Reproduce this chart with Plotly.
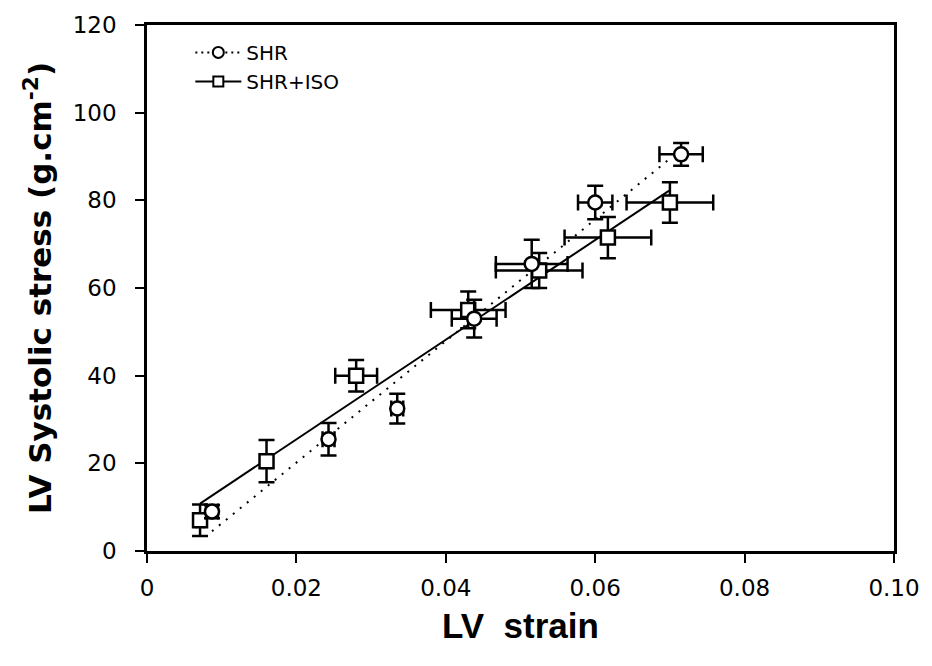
import plotly.graph_objects as go

# SHR (circles, dotted fit)
shr_x = [0.0087, 0.0243, 0.0335, 0.0438, 0.0515, 0.0600, 0.0715]
shr_y = [9.0, 25.5, 32.5, 53.0, 65.5, 79.5, 90.5]
shr_xerr = [0.0008, 0.0008, 0.0008, 0.0030, 0.0048, 0.0023, 0.0029]
shr_yerr = [1.5, 3.7, 3.4, 4.3, 5.5, 3.8, 2.6]
shr_fit_x = [0.0087, 0.0700]
shr_fit_y = [4.5, 89.5]

# SHR+ISO (squares, solid fit)
iso_x = [0.0071, 0.0160, 0.0280, 0.0430, 0.0525, 0.0617, 0.0700]
iso_y = [7.0, 20.5, 40.0, 55.0, 64.0, 71.5, 79.5]
iso_xerr = [0.0005, 0.0005, 0.0028, 0.0050, 0.0058, 0.0058, 0.0058]
iso_yerr = [3.6, 4.8, 3.6, 4.2, 4.0, 4.7, 4.6]
iso_fit_x = [0.0071, 0.0699]
iso_fit_y = [10.8, 82.2]

x_ticks = [0, 0.02, 0.04, 0.06, 0.08, 0.10]
x_ticktext = ["0", "0.02", "0.04", "0.06", "0.08", "0.10"]
y_ticks = [0, 20, 40, 60, 80, 100, 120]

fig = go.Figure()

fig.add_trace(go.Scatter(x=shr_fit_x, y=shr_fit_y, mode="lines",
                         line=dict(color="black", width=2, dash="2px,7px"),
                         showlegend=False, hoverinfo="skip"))
fig.add_trace(go.Scatter(x=iso_fit_x, y=iso_fit_y, mode="lines",
                         line=dict(color="black", width=2),
                         showlegend=False, hoverinfo="skip"))

eb = dict(color="black", thickness=2.5, width=8)
fig.add_trace(go.Scatter(
    x=iso_x, y=iso_y, mode="markers", showlegend=False,
    marker=dict(symbol="square", size=14, color="white",
                line=dict(color="black", width=2.5)),
    error_x=dict(type="data", array=iso_xerr, **eb),
    error_y=dict(type="data", array=iso_yerr, **eb)))
fig.add_trace(go.Scatter(
    x=shr_x, y=shr_y, mode="markers", showlegend=False,
    marker=dict(symbol="circle", size=14, color="white",
                line=dict(color="black", width=2.5)),
    error_x=dict(type="data", array=shr_xerr, **eb),
    error_y=dict(type="data", array=shr_yerr, **eb)))

# legend entries
fig.add_trace(go.Scatter(x=[None], y=[None], mode="lines+markers", name="SHR",
                         line=dict(color="black", width=2, dash="2px,4px"),
                         marker=dict(symbol="circle", size=11, color="white",
                                     line=dict(color="black", width=2))))
fig.add_trace(go.Scatter(x=[None], y=[None], mode="lines+markers", name="SHR+ISO",
                         line=dict(color="black", width=2),
                         marker=dict(symbol="square", size=10, color="white",
                                     line=dict(color="black", width=2))))

tickfont = dict(family="DejaVu Sans", size=23, color="black")
axis_common = dict(showgrid=False, zeroline=False, showline=True, linecolor="black",
                   linewidth=2.5, mirror=True, ticks="outside", ticklen=9,
                   tickwidth=2, tickcolor="black", tickfont=tickfont)

fig.update_layout(
    width=932, height=666,
    paper_bgcolor="white", plot_bgcolor="white",
    margin=dict(l=147, r=37, t=19, b=115),
    xaxis=dict(range=[0, 0.10], tickvals=x_ticks, ticktext=x_ticktext,
               ticklabelstandoff=6,
               title=dict(text="LV  strain", standoff=14,
                          font=dict(family="Liberation Sans, Arial",
                                    size=35, color="black", weight="bold")),
               **axis_common),
    yaxis=dict(range=[0, 120], tickvals=y_ticks, ticklabelstandoff=14,
               title=dict(text="LV Systolic stress (g.cm<sup>-2</sup>)", standoff=12,
                          font=dict(family="DejaVu Sans", size=31,
                                    color="black", weight="bold")),
               **axis_common),
    legend=dict(x=0.058, y=0.985, xanchor="left", yanchor="top",
                bgcolor="rgba(0,0,0,0)", tracegroupgap=0, itemwidth=46,
                font=dict(family="DejaVu Sans", size=20, color="black")),
)

fig.write_html("out.html")
